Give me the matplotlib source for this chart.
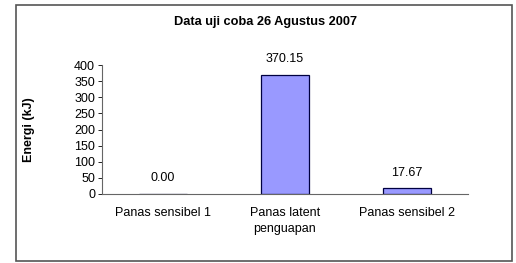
import matplotlib.pyplot as plt
from matplotlib.patches import Rectangle

plt.rcParams['font.family'] = ['Liberation Sans', 'DejaVu Sans']

# Données
categories = ['Panas sensibel 1', 'Panas latent\npenguapan', 'Panas sensibel 2']
energi = [0.00, 370.15, 17.67]
yticks = [0, 50, 100, 150, 200, 250, 300, 350, 400]

W, H = 516, 263
fig = plt.figure(figsize=(W / 100, H / 100), dpi=100)
fig.patches.append(Rectangle((16 / W, 2 / H), 496 / W, 256 / H, transform=fig.transFigure,
                             fill=False, edgecolor='#555555', linewidth=1.2))

ax = fig.add_axes([102 / W, 1 - 194 / H, 366 / W, 129 / H])
x = range(len(categories))
ax.bar(x, energi, width=0.4, color='#9999FF', edgecolor='#000040', linewidth=0.9)
for xi, v in zip(x, energi):
    ax.annotate(f"{v:.2f}", (xi, v), textcoords='offset points', xytext=(0, 7),
                ha='center', va='bottom', fontsize=9)

ax.set_xlim(-0.5, 2.5)
ax.set_ylim(0, 400)
ax.set_yticks(yticks)
ax.set_xticks(list(x))
ax.set_xticklabels(categories, fontsize=9, linespacing=1.45)
ax.tick_params(axis='y', labelsize=9, length=3, width=0.6, pad=2)
ax.tick_params(axis='x', length=0, pad=9)
for s in ['top', 'right']:
    ax.spines[s].set_visible(False)
ax.spines['left'].set_color('#666666')
ax.spines['bottom'].set_color('#666666')
ax.set_ylabel('Energi (kJ)', fontsize=9, fontweight='bold')
ax.yaxis.set_label_coords(-(102 - 35) / 366, 0.5)

fig.text(265 / W, 1 - 22 / H, 'Data uji coba 26 Agustus 2007', ha='center', va='center',
         fontsize=9.2, fontweight='bold')

fig.savefig('out.png', dpi=100)
